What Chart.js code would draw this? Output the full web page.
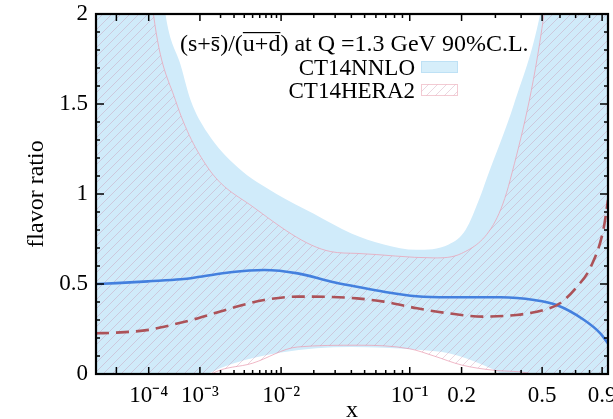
<!DOCTYPE html>
<html><head><meta charset="utf-8">
<script src="https://cdn.jsdelivr.net/npm/chart.js@4.4.1/dist/chart.umd.min.js"></script>
<style>html,body{margin:0;padding:0;background:#fff}</style>
</head><body>
<canvas id="c" width="613" height="419"></canvas>
<script>
// ---- data (x in natural units, y = flavor ratio) ----
const POW = 0.2;                 // axis is linear in x^0.2
const X_MIN = 1e-6, X_MAX = 0.95;

const xTickValues = [1e-4, 1e-3, 1e-2, 0.1, 0.2, 0.5, 0.9];
const xTickLabels = ['10\u207B\u2074', '10\u207B\u00B3', '10\u207B\u00B2', '10\u207B\u00B9', '0.2', '0.5', '0.9'];
const xMajorMarks = [1e-5, 1e-4, 1e-3, 1e-2, 0.1, 0.2, 0.5, 0.9];
const xMinorMarks = [2e-3,3e-3,4e-3,5e-3,6e-3,7e-3,8e-3,9e-3,0.02,0.03,0.04,0.05,0.06,0.07,0.08,0.09,0.3,0.4,0.6,0.7,0.8];
const yTickLabels = ['0', '0.5', '1', '1.5', '2'];

const nnloX = [1e-6, 1e-5, 1e-4, 4.8e-4, 1e-3, 2.7e-3, 6.7e-3, 0.0144, 0.028, 0.044, 0.068, 0.11, 0.17, 0.32, 0.46, 0.58, 0.76, 0.885, 0.95];
const nnloCentral = [0.50, 0.505, 0.515, 0.526, 0.54, 0.565, 0.578, 0.559, 0.513, 0.485, 0.457, 0.432, 0.426, 0.426, 0.411, 0.383, 0.30, 0.226, 0.17];

const heraX = [1e-6, 1e-5, 1e-4, 2.25e-4, 9.1e-4, 2.74e-3, 6.7e-3, 0.0144, 0.028, 0.044, 0.068, 0.111, 0.17, 0.26, 0.38, 0.51, 0.60, 0.71, 0.81, 0.91, 0.95];
const heraCentral = [0.226, 0.23, 0.245, 0.263, 0.309, 0.365, 0.411, 0.43, 0.428, 0.42, 0.402, 0.365, 0.337, 0.319, 0.328, 0.356, 0.393, 0.485, 0.596, 0.80, 0.967];

const nnloUpX = [1e-6, 5e-5, 1.5e-4, 2.4e-4, 4.8e-4, 7.1e-4, 1.3e-3, 3.3e-3, 9e-3, 0.02, 0.04, 0.068, 0.11, 0.17, 0.21, 0.25, 0.27, 0.37, 0.49, 0.6, 0.95];
const nnloUp = [5.0, 3.6, 2.5, 2.0, 1.71, 1.52, 1.34, 1.15, 1.0, 0.89, 0.78, 0.72, 0.69, 0.72, 0.80, 0.98, 1.08, 1.5, 2.0, 2.7, 5.0];
const nnloLowX = [1e-6, 1e-4, 5e-4, 1.3e-3, 3e-3, 0.01, 0.04, 0.11, 0.17, 0.26, 0.32, 0.5, 0.95];
const nnloLow = [-1.0, -0.4, -0.08, 0.0, 0.06, 0.12, 0.15, 0.135, 0.115, 0.05, 0.0, -0.2, -1.0];

const heraUpX = [1e-6, 5e-5, 1.3e-4, 3.8e-4, 1.3e-3, 5e-3, 0.0277, 0.044, 0.14, 0.2, 0.3, 0.355, 0.51, 0.62, 0.95];
const heraUp = [5.0, 3.0, 2.0, 1.52, 1.15, 0.93, 0.68, 0.67, 0.645, 0.67, 0.85, 1.08, 2.0, 3.0, 5.0];
const heraLowX = [1e-6, 1e-4, 5e-4, 1.5e-3, 5e-3, 0.0143, 0.045, 0.1, 0.14, 0.2, 0.3, 0.45, 0.6, 0.95];
const heraLow = [-1.0, -0.5, -0.15, 0.0, 0.06, 0.15, 0.16, 0.14, 0.1, 0.05, 0.02, 0.0, -0.1, -1.0];

const titleText = '(s+s)/(u+d) at Q =1.3 GeV 90%C.L.';
const legendLabels = ['CT14NNLO', 'CT14HERA2'];

// ---- helpers ----
const T = v => Math.pow(v, POW);
const pts = (xs, ys) => xs.map((x, i) => ({x: T(x), y: ys[i]}));

const SERIF = '"Liberation Serif", "Times New Roman", serif';
const BAND_BLUE = 'rgb(208,235,250)';
const HATCH_COL = 'rgba(195,135,165,0.34)';
const EDGE_PINK = 'rgba(235,160,180,0.75)';

function makeHatch(ctx, spacing, color, lw) {
  const c = document.createElement('canvas');
  c.width = c.height = spacing;
  const g = c.getContext('2d');
  g.strokeStyle = color; g.lineWidth = lw;
  g.beginPath();
  g.moveTo(-2, spacing + 2); g.lineTo(spacing + 2, -2);
  g.moveTo(-2, 2); g.lineTo(2, -2);
  g.moveTo(spacing - 2, spacing + 2); g.lineTo(spacing + 2, spacing - 2);
  g.stroke();
  return ctx.createPattern(c, 'repeat');
}

const canvas = document.getElementById('c');
const ctx0 = canvas.getContext('2d');
const hatch = makeHatch(ctx0, 9, HATCH_COL, 1);

// ---- frame, inward ticks, legend ----
const decor = {
  id: 'decor',
  afterDraw(chart) {
    const {ctx, chartArea: a, scales: {x, y}} = chart;
    ctx.save();
    ctx.strokeStyle = '#000';
    ctx.lineWidth = 1.5;
    ctx.beginPath();
    const xt = (v, len) => { const p = x.getPixelForValue(T(v));
      ctx.moveTo(p, a.bottom); ctx.lineTo(p, a.bottom - len);
      ctx.moveTo(p, a.top); ctx.lineTo(p, a.top + len); };
    xMajorMarks.forEach(v => xt(v, 7));
    xMinorMarks.forEach(v => xt(v, 4));
    for (let k = 1; k < 20; k++) {
      const v = k / 10, p = y.getPixelForValue(v), len = (k % 5 === 0) ? 8 : 4;
      ctx.moveTo(a.left, p); ctx.lineTo(a.left + len, p);
      ctx.moveTo(a.right, p); ctx.lineTo(a.right - len, p);
    }
    ctx.stroke();
    ctx.lineWidth = 2.2;
    ctx.strokeRect(a.left, a.top, a.right - a.left, a.bottom - a.top);

    // title with overlines
    ctx.fillStyle = '#000';
    ctx.font = '24px ' + SERIF;
    ctx.textBaseline = 'alphabetic';
    ctx.textAlign = 'left';
    const tx = 180, ty = 51;
    ctx.fillText(titleText, tx, ty);
    const w = s => ctx.measureText(s).width;
    const s1 = tx + w('(s+'), s2 = s1 + w('s');
    ctx.fillRect(s1 + 1, ty - 14, s2 - s1 - 2, 1.2);
    const u1 = tx + w('(s+s)/('), u2 = tx + w('(s+s)/(u+d');
    ctx.fillRect(u1, ty - 19, u2 - u1, 1.2);

    // legend
    ctx.font = '23px ' + SERIF;
    ctx.textAlign = 'right';
    const lx = 415;
    ctx.fillText(legendLabels[0], lx, 75);
    ctx.fillText(legendLabels[1], lx, 98);
    ctx.fillStyle = 'rgb(214,238,250)';
    ctx.fillRect(421, 61, 37, 12);
    ctx.strokeStyle = 'rgba(190,225,245,1)'; ctx.lineWidth = 1;
    ctx.strokeRect(421.5, 61.5, 36, 11);
    ctx.fillStyle = hatch;
    ctx.fillRect(421, 84, 37, 12);
    ctx.strokeStyle = 'rgba(240,190,200,0.8)';
    ctx.strokeRect(421.5, 84.5, 36, 11);
    ctx.restore();
  }
};

const common = {pointRadius: 0, cubicInterpolationMode: 'monotone', borderWidth: 0};

new Chart(canvas, {
  type: 'line',
  data: {
    datasets: [
      {...common, label: 'NNLO up', data: pts(nnloUpX, nnloUp), fill: '+1', backgroundColor: BAND_BLUE, borderColor: 'rgba(0,0,0,0)', order: 5},
      {...common, label: 'NNLO low', data: pts(nnloLowX, nnloLow), fill: false, borderColor: 'rgba(0,0,0,0)', order: 5},
      {...common, label: 'HERA2 up', data: pts(heraUpX, heraUp), fill: '+1', backgroundColor: hatch, borderColor: EDGE_PINK, borderWidth: 1, order: 3},
      {...common, label: 'HERA2 low', data: pts(heraLowX, heraLow), fill: false, borderColor: EDGE_PINK, borderWidth: 1, order: 3},
      {...common, label: 'CT14NNLO', data: pts(nnloX, nnloCentral), fill: false, borderColor: 'rgb(68,128,222)', borderWidth: 2.6, order: 1},
      {...common, label: 'CT14HERA2', data: pts(heraX, heraCentral), fill: false, borderColor: 'rgb(172,82,88)', borderWidth: 2.6, borderDash: [13, 7], order: 0}
    ]
  },
  options: {
    responsive: false,
    devicePixelRatio: 1,
    animation: false,
    events: [],
    layout: {padding: {top: 14, right: 5, left: 0, bottom: 0}},
    plugins: {legend: {display: false}, tooltip: {enabled: false}},
    scales: {
      x: {
        type: 'linear',
        min: T(X_MIN), max: T(X_MAX),
        grid: {display: false, drawTicks: false},
        border: {display: false},
        afterBuildTicks: s => { s.ticks = xTickValues.map(v => ({value: T(v)})); },
        afterFit: s => { s.height = 45; s.paddingLeft = 0; s.paddingRight = 0; s.paddingTop = 0; s.paddingBottom = 0; },
        ticks: {
          autoSkip: false, maxRotation: 0, minRotation: 0, padding: 8, color: '#000',
          font: {family: SERIF, size: 23},
          callback: (v, i) => xTickLabels[i]
        },
        title: {display: true, text: 'x', color: '#000', font: {family: SERIF, size: 24, lineHeight: 1}, padding: {top: 0, bottom: -4}}
      },
      y: {
        type: 'linear', min: 0, max: 2,
        grid: {display: false, drawTicks: false},
        border: {display: false},
        afterBuildTicks: s => { s.ticks = yTickLabels.map(l => ({value: Number(l)})); },
        afterFit: s => { s.width = 96; s.paddingTop = 0; s.paddingBottom = 0; s.paddingLeft = 0; s.paddingRight = 0; },
        ticks: {padding: 8, color: '#000', font: {family: SERIF, size: 23}, callback: (v, i) => yTickLabels[i]},
        title: {display: true, text: 'flavor ratio', color: '#000', font: {family: SERIF, size: 24, lineHeight: 1.2}, padding: {top: 22, bottom: 0}}
      }
    }
  },
  plugins: [decor]
});
</script>
</body></html>
